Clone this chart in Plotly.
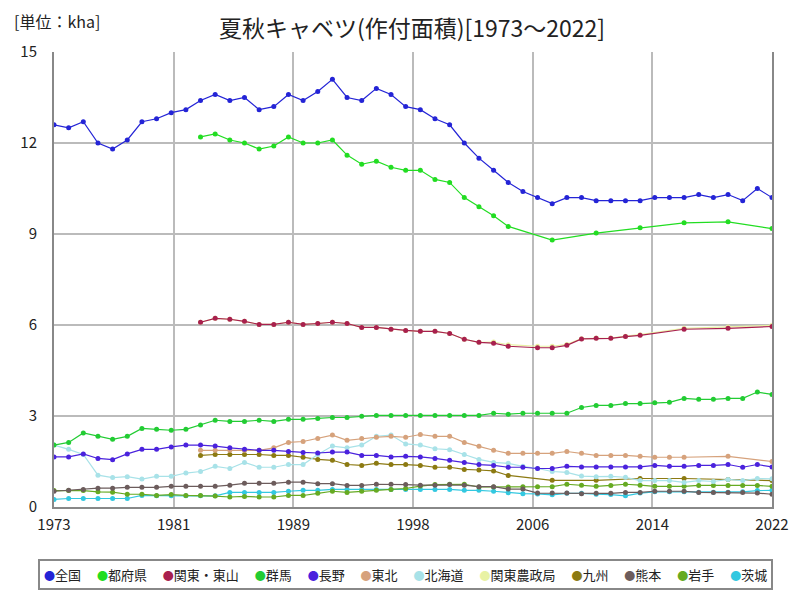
import numpy as np
import plotly.graph_objects as go

# 年次 (1973〜2022)
years = list(range(1973, 2023))
x_tick_labels = ["1973", "1981", "1989", "1998", "2006", "2014", "2022"]

# 作付面積 [kha]、欠測年は None
zenkoku = [12.6, 12.5, 12.7, 12.0, 11.8, 12.1, 12.7, 12.8, 13.0, 13.1,
           13.4, 13.6, 13.4, 13.5, 13.1, 13.2, 13.6, 13.4, 13.7, 14.1,
           13.5, 13.4, 13.8, 13.6, 13.2, 13.1, 12.8, 12.6, 12.0, 11.5,
           11.1, 10.7, 10.4, 10.2, 10.0, 10.2, 10.2, 10.1, 10.1, 10.1,
           10.1, 10.2, 10.2, 10.2, 10.3, 10.2, 10.3, 10.1, 10.5, 10.2]
tofuken = [None] * 10 + [
           12.2, 12.3, 12.1, 12.0, 11.8, 11.9, 12.2, 12.0, 12.0, 12.1,
           11.6, 11.3, 11.4, 11.2, 11.1, 11.1, 10.8, 10.7, 10.2, 9.9,
           9.6, 9.25, None, None, 8.8, None, None, 9.03, None, None,
           9.21, None, None, 9.37, None, None, 9.4, None, None, 9.18]
kanto_tosan = [None] * 10 + [
           6.09, 6.22, 6.19, 6.12, 6.02, 6.02, 6.09, 6.02, 6.05, 6.09,
           6.05, 5.92, 5.92, 5.86, 5.82, 5.79, 5.79, 5.72, 5.53, 5.43,
           5.4, 5.3, None, 5.25, 5.25, 5.33, 5.54, 5.56, 5.56, 5.62,
           5.66, None, None, 5.86, None, None, 5.89, None, None, 5.95]
gunma = [2.04, 2.13, 2.44, 2.33, 2.23, 2.33, 2.59, 2.56, 2.53, 2.56,
         2.70, 2.86, 2.82, 2.82, 2.86, 2.82, 2.89, 2.89, 2.92, 2.95,
         2.95, 2.99, 3.02, 3.02, 3.02, 3.02, 3.02, 3.02, 3.02, 3.02,
         3.09, 3.06, 3.09, 3.09, 3.09, 3.09, 3.28, 3.35, 3.35, 3.41,
         3.41, 3.44, 3.45, 3.58, 3.55, 3.55, 3.58, 3.58, 3.79, 3.71]
nagano = [1.65, 1.65, 1.75, 1.60, 1.56, 1.75, 1.90, 1.90, 1.98, 2.04,
          2.04, 2.01, 1.95, 1.90, 1.87, 1.87, 1.83, 1.80, 1.78, 1.81,
          1.81, 1.70, 1.70, 1.65, 1.67, 1.65, 1.60, 1.54, 1.47, 1.40,
          1.37, 1.31, 1.31, 1.27, 1.27, 1.34, 1.32, 1.32, 1.32, 1.32,
          1.32, 1.37, 1.34, 1.34, 1.37, 1.37, 1.40, 1.31, 1.40, 1.32]
tohoku = [None] * 10 + [
          1.87, 1.87, 1.87, 1.87, 1.87, 1.95, 2.13, 2.16, 2.26, 2.37,
          2.20, 2.26, 2.30, 2.33, 2.30, 2.39, 2.33, 2.33, 2.13, 2.00,
          1.87, 1.77, 1.77, 1.77, 1.77, 1.83, 1.77, 1.70, 1.70, 1.70,
          1.67, 1.64, 1.64, 1.64, None, None, 1.67, None, None, 1.50]
hokkaido = [2.04, 1.90, 1.73, 1.05, 0.97, 1.00, 0.92, 1.01, 1.01, 1.12,
            1.17, 1.34, 1.27, 1.47, 1.31, 1.31, 1.40, 1.40, 1.73, 2.01,
            1.95, 2.04, 2.33, 2.37, 2.08, 2.04, 1.92, 1.89, 1.73, 1.57,
            1.47, 1.44, 1.34, 1.27, 1.17, 1.14, 1.02, 1.00, 1.01, 0.98,
            0.87, 0.87, 0.87, 0.81, 0.87, 0.84, 0.91, 0.87, 0.94, 0.93]
kanto_noseikyoku = [None] * 10 + [
            6.09, 6.22, 6.19, 6.12, 6.02, 6.02, 6.09, 6.02, 6.05, 6.09,
            6.05, 5.92, 5.92, 5.86, 5.82, 5.79, 5.79, 5.72, 5.53, 5.43,
            5.44, 5.35, None, 5.3, 5.3, 5.36, 5.55, 5.57, 5.57, 5.63,
            5.68, None, None, 5.89, None, None, 5.93, None, None, 5.99]
kyushu = [None] * 10 + [
          1.70, 1.73, 1.73, 1.73, 1.73, 1.70, 1.70, 1.64, 1.57, 1.54,
          1.40, 1.37, 1.44, 1.40, 1.40, 1.37, 1.31, 1.31, 1.24, 1.22,
          1.19, 1.04, None, None, 0.88, None, None, 0.88, None, None,
          0.94, None, None, 0.94, None, None, 0.91, None, None, 0.87]
kumamoto = [0.52, 0.55, 0.58, 0.62, 0.62, 0.65, 0.65, 0.65, 0.68, 0.68,
            0.68, 0.68, 0.72, 0.78, 0.78, 0.78, 0.82, 0.82, 0.77, 0.77,
            0.71, 0.71, 0.75, 0.75, 0.74, 0.72, 0.72, 0.74, 0.72, 0.67,
            0.67, 0.59, 0.59, 0.46, 0.46, 0.46, 0.44, 0.45, 0.45, 0.48,
            0.48, 0.52, 0.52, 0.52, 0.48, 0.48, 0.48, 0.48, 0.46, 0.42]
iwate = [0.54, 0.54, 0.54, 0.50, 0.49, 0.42, 0.42, 0.38, 0.41, 0.38,
         0.38, 0.36, 0.33, 0.35, 0.33, 0.33, 0.38, 0.38, 0.45, 0.52,
         0.48, 0.52, 0.55, 0.58, 0.61, 0.69, 0.74, 0.75, 0.75, 0.66,
         0.66, 0.66, 0.67, 0.67, 0.67, 0.75, 0.72, 0.68, 0.71, 0.75,
         0.72, 0.68, 0.68, 0.68, 0.71, 0.71, 0.71, 0.71, 0.71, 0.68]
ibaraki = [0.25, 0.28, 0.28, 0.28, 0.28, 0.28, 0.38, 0.37, 0.37, 0.37,
           0.37, 0.37, 0.48, 0.48, 0.48, 0.48, 0.52, 0.55, 0.55, 0.58,
           0.58, 0.58, 0.58, 0.58, 0.58, 0.58, 0.58, 0.58, 0.55, 0.55,
           0.52, 0.47, 0.44, 0.43, 0.40, 0.45, 0.45, 0.42, 0.41, 0.37,
           0.46, 0.50, 0.50, 0.50, 0.49, 0.49, 0.49, 0.50, 0.54, 0.55]

series_names = ["全国", "都府県", "関東・東山", "群馬", "長野", "東北",
                "北海道", "関東農政局", "九州", "熊本", "岩手", "茨城"]
series_values = [zenkoku, tofuken, kanto_tosan, gunma, nagano, tohoku,
                 hokkaido, kanto_noseikyoku, kyushu, kumamoto, iwate, ibaraki]
series_colors = ["#2424d6", "#22dd22", "#a8204e", "#22cc33", "#4a22dd", "#d6a27c",
                 "#a8e2e8", "#e8f2a4", "#8c7a12", "#6c5c5c", "#66aa22", "#33c8e0"]

FONT = "Noto Sans CJK JP"

fig = go.Figure()

# 凡例の先頭系列が上に来るよう逆順に描画
for name, vals, color in reversed(list(zip(series_names, series_values, series_colors))):
    fig.add_trace(go.Scatter(
        x=years, y=vals, name=name,
        mode="lines+markers",
        connectgaps=True,
        line=dict(color=color, width=1.2),
        marker=dict(color=color, size=5),
        showlegend=False,
    ))

tick_pos = np.linspace(1973, 2022, len(x_tick_labels))

fig.update_xaxes(
    range=[1973, 2022], automargin=False,
    tickvals=tick_pos, ticktext=x_tick_labels,
    showgrid=True, gridcolor="#bbbbbb", gridwidth=1.5,
    showline=True, linecolor="#888888", linewidth=2,
    ticks="", zeroline=False, ticklabelstandoff=3,
    tickfont=dict(family=FONT, size=15, color="#222222"),
)
fig.update_yaxes(
    range=[0, 15], dtick=3, automargin=False,
    showgrid=True, gridcolor="#bbbbbb", gridwidth=1.5,
    showline=True, linecolor="#888888", linewidth=2, mirror=True,
    ticks="", zeroline=False, ticklabelstandoff=12,
    tickfont=dict(family=FONT, size=15, color="#222222"),
)

# 凡例 (枠付きの一行)
legend_text = "　 ".join(
    f'<span style="color:{c};font-size:11px">●</span>{n}'
    for n, c in zip(series_names, series_colors)
)
fig.add_annotation(
    text=legend_text, xref="paper", yref="paper",
    x=0.489, y=-0.149, xanchor="center", yanchor="middle",
    showarrow=False, font=dict(family=FONT, size=13, color="#222222"),
    bordercolor="#888888", borderwidth=2, borderpad=4, bgcolor="white",
)
fig.add_annotation(
    text="[単位：kha]", xref="paper", yref="paper",
    x=-0.058, y=1.068, xanchor="left", yanchor="middle",
    showarrow=False, font=dict(family=FONT, size=16, color="#222222"),
)

# ページ余白 (8px) を差し引いた余白設定
fig.update_layout(
    width=800, height=600,
    title=dict(text="夏秋キャベツ(作付面積)[1973～2022]",
               x=0.505, xanchor="center", y=0.965, yanchor="middle",
               font=dict(family=FONT, size=23, color="#222222")),
    margin=dict(l=46, r=36, t=44, b=101),
    paper_bgcolor="white", plot_bgcolor="white",
    font=dict(family=FONT),
)

fig.write_html("out.html")
